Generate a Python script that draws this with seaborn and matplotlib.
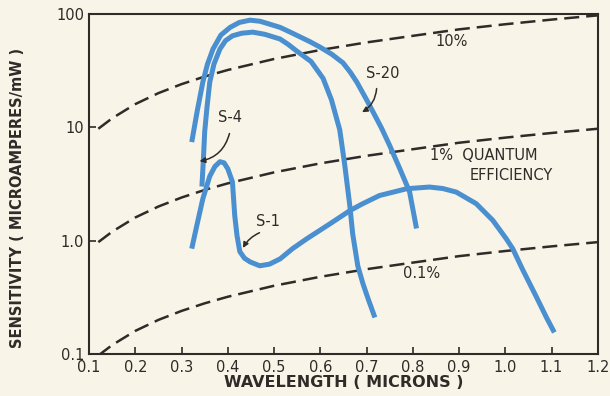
import matplotlib
matplotlib.use("Agg")
import matplotlib.pyplot as plt
import matplotlib.ticker as mticker
import seaborn as sns

# quantum efficiency reference lines
qe_x = [0.12, 0.15, 0.2, 0.25, 0.3, 0.35, 0.4, 0.5, 0.6, 0.7, 0.8, 0.9, 1.0, 1.1, 1.2]
qe_10 = [9.7, 12, 16, 20, 24, 28, 32, 40, 48, 56, 64, 73, 81, 89, 97]
qe_1 = [0.97, 1.2, 1.6, 2.0, 2.4, 2.8, 3.2, 4.0, 4.8, 5.6, 6.4, 7.3, 8.1, 8.9, 9.7]
qe_01 = [0.097, 0.12, 0.16, 0.20, 0.24, 0.28, 0.32, 0.40, 0.48, 0.56, 0.64, 0.73, 0.81, 0.89, 0.97]

# photocathode response curves
s20_x = [0.322, 0.334, 0.346, 0.356, 0.368, 0.385, 0.405, 0.425, 0.448, 0.47, 0.491, 0.513,
         0.535, 0.555, 0.577, 0.599, 0.625, 0.649, 0.665, 0.679, 0.70, 0.713, 0.732, 0.75,
         0.772, 0.793, 0.808]
s20_y = [7.4, 14, 25, 36, 49, 65, 76, 84, 88, 86, 81, 76,
         69, 63, 57, 51, 44, 37, 30.5, 25, 17.5, 13.9, 9.9, 6.9,
         4.3, 2.7, 1.28]

s4_x = [0.344, 0.347, 0.35, 0.355, 0.361, 0.37, 0.383, 0.395, 0.41, 0.43, 0.454, 0.48,
        0.513, 0.53, 0.549, 0.58, 0.606, 0.624, 0.642, 0.653, 0.664, 0.67, 0.681,
        0.692, 0.703, 0.718]
s4_y = [3.0, 5.0, 9.1, 15, 25, 36, 49, 58, 64, 67.5, 69, 66,
        60, 54, 47, 38, 27, 17.5, 9.5, 4.6, 2.0, 1.15, 0.6,
        0.42, 0.31, 0.21]

s1_x = [0.322, 0.333, 0.346, 0.361, 0.372, 0.383, 0.392, 0.40, 0.41, 0.415, 0.42, 0.426,
        0.436, 0.448, 0.469, 0.49, 0.513, 0.54, 0.571, 0.62, 0.664, 0.69, 0.728, 0.787,
        0.836, 0.865, 0.894, 0.937, 0.973, 1.002, 1.016, 1.038, 1.067, 1.089, 1.106]
s1_y = [0.85, 1.36, 2.34, 3.7, 4.5, 4.97, 4.85, 4.3, 3.3, 1.66, 1.1, 0.8,
        0.7, 0.65, 0.60, 0.62, 0.69, 0.85, 1.04, 1.4, 1.84, 2.1, 2.5, 2.87,
        2.97, 2.88, 2.68, 2.12, 1.51, 1.04, 0.85, 0.55, 0.32, 0.21, 0.155]

x_ticks = [0.1, 0.2, 0.3, 0.4, 0.5, 0.6, 0.7, 0.8, 0.9, 1.0, 1.1, 1.2]
x_labels = ["0.1", "0.2", "0.3", "0.4", "0.5", "0.6", "0.7", "0.8", "0.9", "1.0", "1.1", "1.2"]
y_ticks = [0.1, 1, 10, 100]
y_labels = ["0.1", "1.0", "10", "100"]

bg = "#f8f4e8"
ink = "#2e2b28"
blue = "#4a8fd0"

sns.set_style("ticks")
plt.rcParams["font.family"] = ["DejaVu Sans"]

fig = plt.figure(figsize=(6.1, 3.96), dpi=100, facecolor=bg)
ax = fig.add_axes([0.146, 0.106, 0.834, 0.859], facecolor=bg)

for ys in (qe_10, qe_1, qe_01):
    sns.lineplot(x=qe_x, y=ys, ax=ax, color=ink, lw=1.8, linestyle=(0, (6, 2.8)))

for xs, ys in ((s20_x, s20_y), (s4_x, s4_y), (s1_x, s1_y)):
    sns.lineplot(x=xs, y=ys, ax=ax, color=blue, lw=3.6, sort=False, estimator=None,
                 solid_capstyle="butt", solid_joinstyle="round")

ax.set_yscale("log")
ax.set_xlim(0.1, 1.2)
ax.set_ylim(0.1, 100)
ax.set_xticks(x_ticks)
ax.set_xticklabels(x_labels)
ax.set_yticks(y_ticks)
ax.set_yticklabels(y_labels)
ax.yaxis.set_minor_locator(mticker.NullLocator())
ax.tick_params(direction="in", length=5, width=1.2, colors=ink, labelsize=10.5)
ax.tick_params(axis="x", pad=4)
for s in ax.spines.values():
    s.set_visible(True)
    s.set_color(ink)
    s.set_linewidth(1.5)

ax.set_xlabel("WAVELENGTH ( MICRONS )", fontsize=11.5, color=ink, labelpad=0, fontweight="bold")
ax.set_ylabel("SENSITIVITY ( MICROAMPERES/mW )", fontsize=10.5, color=ink, fontweight="bold")
ax.yaxis.set_label_coords(-0.125, 0.46)

tk = dict(color=ink, fontsize=10.5)
ax.text(0.884, 57, "10%", ha="center", va="center", **tk)
ax.text(0.837, 5.6, "1%  QUANTUM", ha="left", va="center", **tk)
ax.text(0.923, 3.73, "EFFICIENCY", ha="left", va="center", **tk)
ax.text(0.819, 0.51, "0.1%", ha="center", va="center", **tk)
ax.text(0.735, 29.5, "S-20", ha="center", va="center", **tk)
ax.text(0.405, 12.3, "S-4", ha="center", va="center", **tk)
ax.text(0.487, 1.47, "S-1", ha="center", va="center", **tk)

arr = dict(arrowstyle="-|>", color=ink, lw=1.1, mutation_scale=8)
ax.annotate("", xy=(0.685, 13.2), xytext=(0.722, 23.2),
            arrowprops=dict(connectionstyle="arc3,rad=-0.3", **arr))
ax.annotate("", xy=(0.333, 4.97), xytext=(0.405, 9.3),
            arrowprops=dict(connectionstyle="arc3,rad=-0.35", **arr))
ax.annotate("", xy=(0.43, 0.82), xytext=(0.474, 1.2),
            arrowprops=dict(connectionstyle="arc3,rad=0.2", **arr))

fig.savefig("out.png", dpi=100, facecolor=bg)
